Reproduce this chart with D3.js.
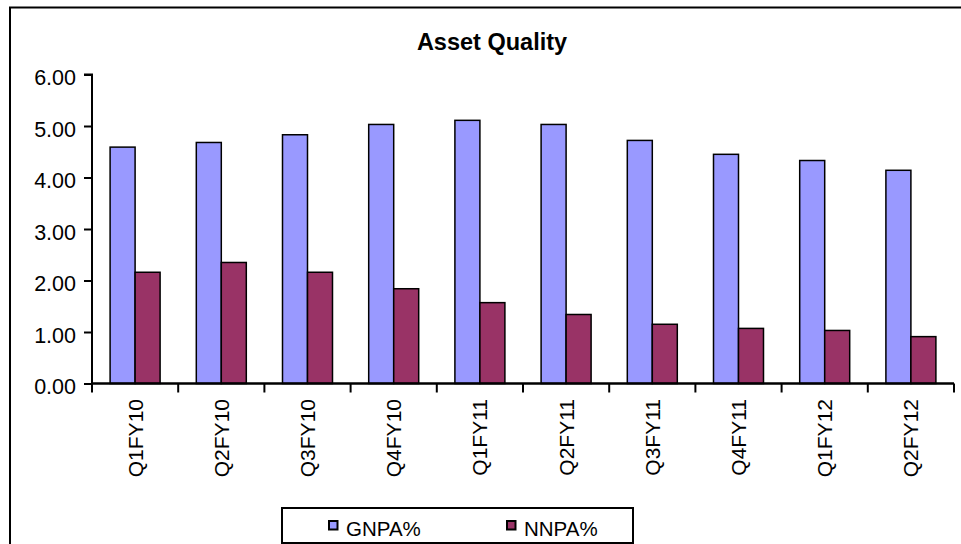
<!DOCTYPE html>
<html>
<head>
<meta charset="utf-8">
<script src="https://cdn.jsdelivr.net/npm/d3@7"></script>
<style>
  html, body { margin: 0; padding: 0; background: #fff; }
  svg { display: block; font-family: "Liberation Sans", Arial, sans-serif; }
</style>
</head>
<body>
<svg id="chart" width="961" height="544"></svg>
<script>
const categories = ["Q1FY10","Q2FY10","Q3FY10","Q4FY10","Q1FY11","Q2FY11","Q3FY11","Q4FY11","Q1FY12","Q2FY12"];
const seriesNames = ["GNPA%","NNPA%"];
const gnpa = [4.59, 4.68, 4.83, 5.03, 5.11, 5.03, 4.72, 4.45, 4.33, 4.14];
const nnpa = [2.16, 2.35, 2.16, 1.84, 1.57, 1.34, 1.15, 1.07, 1.03, 0.91];
const yTicks = [0, 1, 2, 3, 4, 5, 6];
const colors = ["#9999FF", "#993366"];
const title = "Asset Quality";

const svg = d3.select("#chart");
const pLeft = 92, pRight = 954, pTop = 74.5, pBottom = 383.5;

// outer frame
svg.append("rect").attr("x", 10).attr("y", 7.5).attr("width", 1000).attr("height", 600)
  .attr("fill", "none").attr("stroke", "#000").attr("stroke-width", 2);

const x0 = d3.scaleBand().domain(categories).range([pLeft, pRight]).padding(0);
const x1 = d3.scaleBand().domain(seriesNames)
  .range([x0.bandwidth() * 0.21, x0.bandwidth() * 0.79]).padding(0);
const y = d3.scaleLinear().domain([0, 6]).range([pBottom, pTop]);

// title
svg.append("text").attr("x", 492).attr("y", 50).attr("text-anchor", "middle")
  .attr("font-size", 23.5).attr("font-weight", "bold").text(title);

// bars
const data = categories.map((c, i) => ({ cat: c, vals: [gnpa[i], nnpa[i]] }));
const g = svg.append("g");
data.forEach(d => {
  d.vals.forEach((v, j) => {
    g.append("rect")
      .attr("x", x0(d.cat) + x1(seriesNames[j]))
      .attr("y", y(v))
      .attr("width", x1.bandwidth())
      .attr("height", y(0) - y(v))
      .attr("fill", colors[j])
      .attr("stroke", "#000").attr("stroke-width", 1.5);
  });
});

// y axis
const yAxis = d3.axisLeft(y).tickValues(yTicks).tickSize(8).tickPadding(0)
  .tickFormat(d3.format(".2f"));
const ya = svg.append("g").attr("transform", `translate(${pLeft},0)`).call(yAxis);
ya.select(".domain").attr("stroke-width", 2).attr("d", `M-8,${y(6)}H0V${y(0)}`);
ya.selectAll(".tick line").attr("stroke-width", 2);
ya.selectAll(".tick text").attr("font-size", 21.5).attr("font-family", "Liberation Sans, Arial, sans-serif")
  .attr("fill", "#000").attr("x", -16).attr("dy", "10");

// x axis
const xa = svg.append("g").attr("transform", `translate(0,${pBottom})`);
xa.append("line").attr("x1", pLeft).attr("x2", pRight).attr("stroke", "#000").attr("stroke-width", 2.5);
const edges = categories.map(c => x0(c)).concat([pRight]);
xa.selectAll("line.tk").data(edges).enter().append("line").attr("class", "tk")
  .attr("x1", d => d).attr("x2", d => d).attr("y1", 0).attr("y2", 9)
  .attr("stroke", "#000").attr("stroke-width", 2);
svg.append("g").selectAll("text").data(categories).enter().append("text")
  .attr("transform", d => `translate(${x0(d) + x0.bandwidth() / 2 + 7.5},399) rotate(-90)`)
  .attr("text-anchor", "end").attr("font-size", 21).text(d => d);

// legend
const lg = svg.append("g");
lg.append("rect").attr("x", 282).attr("y", 508).attr("width", 351).attr("height", 35)
  .attr("fill", "#fff").attr("stroke", "#000").attr("stroke-width", 2);
const legendX = [329, 507];
seriesNames.forEach((s, j) => {
  lg.append("rect").attr("x", legendX[j]).attr("y", 521).attr("width", 8.5).attr("height", 8.5)
    .attr("fill", colors[j]).attr("stroke", "#000").attr("stroke-width", 2);
  lg.append("text").attr("x", legendX[j] + 17).attr("y", 535.5).attr("font-size", 20.5).text(s);
});
</script>
</body>
</html>
